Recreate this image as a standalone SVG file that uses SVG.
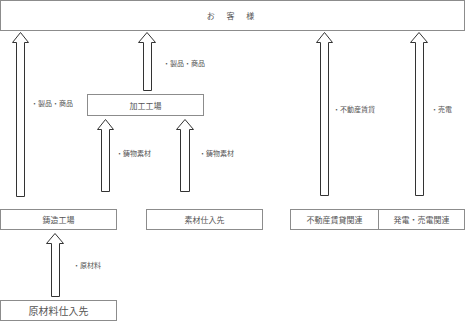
<svg xmlns="http://www.w3.org/2000/svg" width="466" height="321" viewBox="0 0 466 321">
<style>
.box{fill:#fff;stroke:#8c8c8c;stroke-width:1}
.arr{fill:#fff;stroke:#333;stroke-width:1}
text{font-family:"Noto Sans CJK JP","Noto Sans CJK SC",sans-serif;fill:#555}
.t{font-size:8px;text-anchor:middle;dominant-baseline:central}
.l{font-size:7px;dominant-baseline:central}
</style>
<rect width="466" height="321" fill="#fff"/>
<g id="customer"><rect class="box" x="0.5" y="0.5" width="464" height="30"/><text class="t" x="233" y="15" letter-spacing="5">お 客 様</text></g>
<g id="kakou"><rect class="box" x="87.5" y="94.5" width="116" height="21"/><text class="t" x="145.5" y="105">加工工場</text></g>
<g id="chuzo"><rect class="box" x="0.5" y="209.5" width="116" height="20"/><text class="t" x="58.5" y="219.5">鋳造工場</text></g>
<g id="sozai"><rect class="box" x="146.5" y="209.5" width="116" height="20"/><text class="t" x="204.5" y="219.5">素材仕入先</text></g>
<g id="fudosan"><rect class="box" x="290.5" y="209.5" width="88" height="20"/><text class="t" x="334.5" y="219.5">不動産賃貸関連</text></g>
<g id="hatsuden"><rect class="box" x="378.5" y="209.5" width="86" height="20"/><text class="t" x="421.5" y="219.5">発電・売電関連</text></g>
<g id="genzairyo"><rect class="box" x="0.5" y="300.5" width="116" height="20"/><text class="t" x="58.5" y="310.5" style="font-size:10px">原材料仕入先</text></g>
<g id="connectors">
<path class="arr" d="M12.5 42.5 L20.5 32.5 L28.5 42.5 L24.5 42.5 L24.5 196.5 L16.5 196.5 L16.5 42.5 Z"/>
<path class="arr" d="M138.5 42.5 L147 32.5 L155.5 42.5 L151.5 42.5 L151.5 90.5 L143.5 90.5 L143.5 42.5 Z"/>
<path class="arr" d="M97.5 129.5 L105.5 119.5 L113.5 129.5 L109.5 129.5 L109.5 191.5 L101.5 191.5 L101.5 129.5 Z"/>
<path class="arr" d="M176.5 129.5 L185 119.5 L193.5 129.5 L189.5 129.5 L189.5 191.5 L180.5 191.5 L180.5 129.5 Z"/>
<path class="arr" d="M316.5 42.5 L324.5 32.5 L332.5 42.5 L328.5 42.5 L328.5 195.5 L320.5 195.5 L320.5 42.5 Z"/>
<path class="arr" d="M410.5 42.5 L419 32.5 L427.5 42.5 L423.5 42.5 L423.5 195.5 L415.5 195.5 L415.5 42.5 Z"/>
<path class="arr" d="M46.5 243.5 L55 233.5 L63.5 243.5 L59.5 243.5 L59.5 296.5 L51.5 296.5 L51.5 243.5 Z"/>
<text class="l" x="31" y="103">・製品・商品</text>
<text class="l" x="163" y="63">・製品・商品</text>
<text class="l" x="116" y="153">・鋳物素材</text>
<text class="l" x="199" y="153">・鋳物素材</text>
<text class="l" x="333" y="109">・不動産賃貸</text>
<text class="l" x="431" y="109">・売電</text>
<text class="l" x="73" y="265">・原材料</text>
</g>
</svg>
